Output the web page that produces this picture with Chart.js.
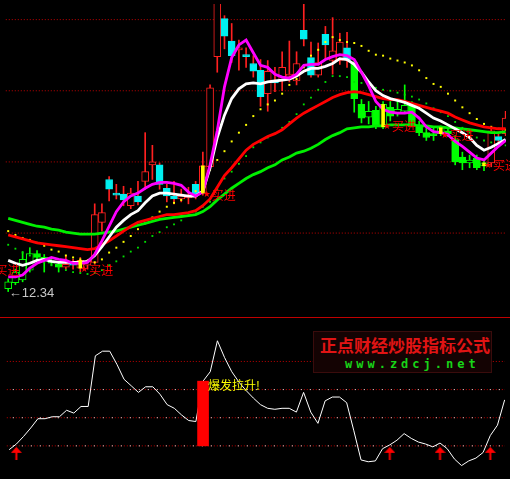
<!DOCTYPE html>
<html>
<head>
<meta charset="utf-8">
<script src="https://cdn.jsdelivr.net/npm/chart.js"></script>
<style>
  html, body { margin: 0; padding: 0; background: #000; overflow: hidden; }
  #wrap { position: relative; width: 510px; height: 479px; background: #000; }
  #k { position: absolute; left: 0; top: 0; }
  #oscBox { position: absolute; left: 0; top: 317px; width: 510px; height: 162px;
            border-top: 1px solid #c00000; box-sizing: border-box; }
  #osc { position: absolute; left: 0; top: 0; }
  #badge { position: absolute; left: 313px; top: 331px; width: 179px; height: 42px;
           background: #140303; border: 1px solid #3a0c0c; box-sizing: border-box; }
  #badge .cn { position: absolute; left: 6px; top: 3px; font: bold 17px "Noto Sans CJK SC", sans-serif;
               line-height: 20px; color: #e01414; white-space: nowrap; }
  #badge .url { position: absolute; left: 31px; top: 26px; font: bold 12px "DejaVu Sans Mono", monospace;
                line-height: 13px; letter-spacing: 4px; color: #18d418; white-space: nowrap; }
</style>
</head>
<body>
<div id="wrap">
  <canvas id="k" width="510" height="317"></canvas>
  <div id="oscBox"><canvas id="osc" width="510" height="161"></canvas></div>
  <div id="badge"><div class="cn">正点财经炒股指标公式</div><div class="url">www.zdcj.net</div></div>
</div>
<script>
// ---- daily bars ----
const open  = [12.37,12.43,12.46,12.56,12.73,12.69,12.65,12.62,12.59,12.63,12.58,12.61,
               12.64,13.05,13.49,13.35,13.34,13.22,13.32,13.47,13.64,13.64,13.40,13.32,
               13.29,13.30,13.44,13.35,13.62,14.75,15.14,14.91,14.82,14.77,14.68,14.61,
               14.37,14.51,14.51,14.55,14.50,15.02,14.74,14.56,14.98,14.71,14.71,14.84,
               14.69,14.26,14.13,14.20,14.03,14.23,14.17,14.19,14.25,14.05,13.97,13.96,
               13.96,13.99,13.90,13.72,13.66,13.71,13.63,13.66,13.93,13.96];
const high  = [12.47,12.57,12.75,12.79,12.76,12.72,12.67,12.64,12.71,12.67,12.69,12.67,
               13.24,13.24,13.52,13.44,13.42,13.40,13.47,13.97,13.84,13.66,13.44,13.47,
               13.39,13.41,13.47,13.77,14.46,15.54,15.17,15.09,14.92,14.84,14.76,14.72,
               14.71,14.64,14.80,14.91,14.80,15.34,14.90,14.89,15.06,15.15,14.99,15.00,
               14.72,14.31,14.29,14.24,14.29,14.29,14.31,14.46,14.29,14.09,14.02,14.02,
               14.04,14.02,13.94,13.77,13.74,13.74,13.69,14.01,13.96,14.19];
const low   = [12.34,12.41,12.44,12.54,12.67,12.54,12.61,12.54,12.57,12.57,12.54,12.57,
               12.62,12.96,13.27,13.29,13.22,13.19,13.23,13.39,13.49,13.39,13.26,13.24,
               13.26,13.24,13.29,13.33,13.60,14.59,14.83,14.69,14.61,14.64,14.54,14.24,
               14.19,14.39,14.40,14.49,14.46,14.86,14.54,14.54,14.72,14.57,14.67,14.64,
               14.18,14.07,14.06,14.01,14.01,14.09,14.14,14.17,14.03,13.94,13.89,13.89,
               13.94,13.93,13.64,13.59,13.61,13.59,13.58,13.62,13.87,13.94];
const close = [12.44,12.54,12.67,12.73,12.69,12.66,12.63,12.59,12.62,12.61,12.66,12.65,
               13.13,13.15,13.39,13.33,13.28,13.35,13.26,13.57,13.67,13.44,13.32,13.29,
               13.32,13.33,13.34,13.63,14.43,15.37,14.96,14.76,14.84,14.75,14.60,14.34,
               14.60,14.48,14.64,14.57,14.68,14.93,14.56,14.69,14.87,14.81,14.90,14.72,
               14.32,14.12,14.19,14.03,14.26,14.14,14.21,14.25,14.06,13.97,13.92,13.94,
               14.02,13.96,13.67,13.66,13.69,13.61,13.66,13.99,13.89,14.12];

// ---- overlay lines ----
const fastLine  = [12.49,12.49,12.51,12.58,12.63,12.66,12.69,12.67,12.66,12.63,12.63,12.64,
                   12.72,12.86,13.01,13.16,13.26,13.32,13.35,13.40,13.44,13.46,13.46,13.45,
                   13.43,13.36,13.32,13.36,13.64,13.99,14.44,14.74,14.87,14.92,14.79,14.66,
                   14.64,14.57,14.54,14.53,14.57,14.66,14.67,14.67,14.72,14.75,14.77,14.76,
                   14.72,14.59,14.45,14.29,14.21,14.18,14.17,14.17,14.18,14.12,14.03,13.98,
                   13.97,13.95,13.88,13.83,13.77,13.71,13.69,13.76,13.83,13.89];
const shortLine = [12.66,12.63,12.61,12.63,12.66,12.67,12.65,12.64,12.64,12.64,12.64,12.65,
                   12.71,12.80,12.90,13.00,13.07,13.13,13.17,13.25,13.32,13.35,13.35,13.34,
                   13.33,13.32,13.32,13.37,13.61,13.92,14.15,14.32,14.42,14.47,14.48,14.47,
                   14.49,14.50,14.51,14.52,14.55,14.60,14.63,14.63,14.65,14.68,14.73,14.72,
                   14.67,14.59,14.49,14.40,14.35,14.32,14.30,14.28,14.25,14.22,14.17,14.12,
                   14.09,14.05,14.01,13.97,13.92,13.84,13.79,13.82,13.86,13.90];
const midLine   = [12.92,12.90,12.88,12.86,12.84,12.83,12.82,12.81,12.80,12.79,12.78,12.77,
                   12.78,12.82,12.86,12.91,12.96,13.01,13.05,13.07,13.09,13.11,13.13,13.13,
                   13.14,13.15,13.17,13.22,13.29,13.41,13.53,13.61,13.70,13.79,13.85,13.89,
                   13.93,13.96,14.00,14.06,14.12,14.17,14.21,14.25,14.29,14.33,14.36,14.38,
                   14.39,14.38,14.36,14.34,14.32,14.31,14.31,14.29,14.27,14.25,14.23,14.21,
                   14.19,14.17,14.13,14.10,14.07,14.05,14.03,14.02,14.01,14.01];
const longLine  = [13.09,13.07,13.05,13.03,13.01,13.00,12.98,12.97,12.95,12.94,12.93,12.93,
                   12.93,12.94,12.95,12.96,12.98,13.00,13.02,13.04,13.06,13.08,13.09,13.10,
                   13.11,13.12,13.13,13.16,13.21,13.28,13.34,13.40,13.45,13.50,13.54,13.57,
                   13.61,13.64,13.69,13.72,13.76,13.78,13.81,13.85,13.90,13.94,13.97,14.01,
                   14.02,14.03,14.03,14.04,14.04,14.05,14.05,14.05,14.05,14.04,14.04,14.03,
                   14.03,14.02,14.02,14.01,14.00,13.99,13.98,13.97,13.97,13.98];
const upperDots = [12.96,12.92,12.89,12.87,12.84,12.81,12.77,12.75,12.71,12.69,12.67,12.65,
                   12.64,12.67,12.74,12.79,12.85,12.91,12.98,13.04,13.10,13.16,13.21,13.25,
                   13.28,13.32,13.37,13.46,13.59,13.69,13.78,13.88,13.97,14.05,14.14,14.21,
                   14.26,14.30,14.37,14.46,14.52,14.64,14.76,14.82,14.90,14.95,14.92,14.90,
                   14.89,14.86,14.81,14.77,14.76,14.73,14.71,14.69,14.66,14.61,14.53,14.47,
                   14.44,14.37,14.30,14.23,14.17,14.11,14.06,14.03,14.01,14.00];
const lowerDots = [12.82,12.78,12.74,12.71,12.67,12.64,12.61,12.59,12.56,12.54,12.53,12.52,
                   12.53,12.56,12.61,12.65,12.70,12.75,12.79,12.85,12.91,12.95,13.00,13.03,
                   13.07,13.12,13.16,13.21,13.26,13.39,13.50,13.57,13.65,13.73,13.82,13.87,
                   13.92,13.96,14.02,14.08,14.16,14.26,14.33,14.41,14.49,14.55,14.55,14.54,
                   14.49,14.48,14.46,14.43,14.41,14.40,14.38,14.36,14.34,14.31,14.27,14.22,
                   14.18,14.14,14.08,14.02,13.97,13.92,13.89,13.87,13.85,13.84];

// ---- oscillator ----
const osc = [17.3,21.3,26.7,32.7,39.3,39.3,40.7,40.7,45.3,43.3,48,48,
             84,87.3,87.3,78,67.3,62.7,58,62,62,56.7,49.3,46.7,
             42,38,37.3,66,72.7,94.7,82.7,72.7,65.3,59.3,54,49.3,
             46.7,46,46.7,46.7,44,58,44,36,52,54.7,54.7,50.7,
             30.7,10,8.7,9.3,18,20.7,24,28.7,25.3,22.7,21.3,19.3,
             22,18,10.7,6,9.3,11.3,15.3,27.3,34.7,52.7];

// ---- signals and levels ----
const weakSpans   = [[0, 7], [48, 66]];
const buyBars     = [-3, 10, 27, 52, 60, 66];
const buyAt       = [12.56, 12.56, 13.33, 14.03, 13.94, 13.63];
const signalBars  = [10, 27, 52, 60, 66];
const burstBars   = [27];
const priceGrid   = [12.94, 13.67, 14.40, 15.13];
const oscGrid     = [20, 40, 60, 80];
const oscTrigger  = 20;

const BUY_STAR = '★';
const BUY_TEXT = '买进';
const BURST_TEXT = '爆发拉升!';

const C_UP = '#ff2020', C_DOWN = '#00f0f0', C_WEAK = '#00ff00';
const X_MIN = -0.582, X_MAX = 69.05;

const idx = close.map((_, i) => i);
const pts = arr => arr.map((v, i) => ({ x: i, y: v }));
const isWeak = i => weakSpans.some(([a, b]) => i >= a && i <= b);
const isUp = i => close[i] >= open[i];
const bodyColor = i => isWeak(i) ? C_WEAK : (isUp(i) ? C_UP : C_DOWN);
const wickColor = i => isWeak(i) ? C_WEAK : C_UP;

function hLine(v, color, dash, order, dashOffset = 0) {
  return { type: 'line', data: [{ x: X_MIN - 1, y: v }, { x: X_MAX + 1, y: v }],
           borderColor: color, borderWidth: 1, borderDash: dash, borderDashOffset: dashOffset,
           pointRadius: 0, order };
}

const xScale = { type: 'linear', min: X_MIN, max: X_MAX, offset: false, display: false, bounds: 'ticks' };

// ---- price panel ----
const priceMarks = {
  id: 'priceMarks',
  afterDatasetsDraw(chart) {
    const { ctx, scales: { x, y } } = chart;
    ctx.save();
    ctx.fillStyle = '#ff0000';
    ctx.textBaseline = 'middle';
    ctx.textAlign = 'left';
    buyBars.forEach((b, k) => {
      const px = x.getPixelForValue(b), py = y.getPixelForValue(buyAt[k]);
      ctx.font = '9px "DejaVu Sans", sans-serif';
      ctx.fillText(BUY_STAR, px, py);
      ctx.font = '12px "Noto Sans CJK SC", sans-serif';
      ctx.fillText(BUY_TEXT, px + 9, py);
    });
    const lowest = Math.min(...low);
    const at = low.indexOf(lowest);
    ctx.font = '13px "Liberation Sans", sans-serif';
    ctx.fillStyle = '#c8c8c8';
    ctx.fillText('←' + lowest.toFixed(2), x.getPixelForValue(at) + 0.5, y.getPixelForValue(lowest) + 1.5);
    ctx.restore();
  }
};

new Chart(document.getElementById('k'), {
  type: 'bar',
  data: {
    datasets: [
      ...priceGrid.map(v => hLine(v, '#c00000', [1, 2], 30)),
      { type: 'bar', data: idx.map(i => ({ x: i, y: [low[i], high[i]] })), grouped: false,
        barThickness: 1, backgroundColor: c => wickColor(c.dataIndex), borderWidth: 0, order: 20 },
      { type: 'bar', data: idx.map(i => ({ x: i, y: [open[i], close[i]] })), grouped: false,
        barThickness: 7, minBarLength: 1, borderSkipped: false, borderWidth: 1,
        borderColor: c => bodyColor(c.dataIndex),
        backgroundColor: c => isUp(c.dataIndex) ? '#000' : bodyColor(c.dataIndex), order: 19 },
      { type: 'line', showLine: false, data: pts(upperDots), pointStyle: 'rect', pointRadius: 1.4,
        pointBackgroundColor: '#ffff00', pointBorderWidth: 0, order: 12 },
      { type: 'line', showLine: false, data: pts(lowerDots), pointStyle: 'rect', pointRadius: 1.3,
        pointBackgroundColor: '#00e000', pointBorderWidth: 0, order: 12 },
      { type: 'line', data: pts(longLine), borderColor: '#00f000', borderWidth: 2.8, pointRadius: 0, order: 6 },
      { type: 'line', data: pts(midLine), borderColor: '#ff0000', borderWidth: 2.8, pointRadius: 0, order: 5 },
      { type: 'line', data: pts(shortLine), borderColor: '#ffffff', borderWidth: 2.8, pointRadius: 0, order: 4 },
      { type: 'line', data: pts(fastLine), borderColor: '#ff00ff', borderWidth: 2.8, pointRadius: 0, order: 3 },
      { type: 'bar', data: signalBars.map(b => ({ x: b, y: [open[b], close[b]] })), grouped: false,
        barThickness: 3, minBarLength: 2, backgroundColor: '#ffff00', borderWidth: 0, order: 1 }
    ]
  },
  options: {
    responsive: false, animation: false, devicePixelRatio: 1,
    layout: { padding: 0 },
    plugins: { legend: { display: false }, tooltip: { enabled: false } },
    scales: {
      x: xScale,
      y: { type: 'linear', min: 12.12, max: 15.29, display: false }
    }
  },
  plugins: [priceMarks]
});

// ---- oscillator panel ----
const arrowImg = document.createElement('canvas');
arrowImg.width = 11; arrowImg.height = 13;
(() => {
  const a = arrowImg.getContext('2d');
  a.fillStyle = '#ff0000';
  a.beginPath(); a.moveTo(5.5, 0); a.lineTo(11, 6); a.lineTo(0, 6); a.closePath(); a.fill();
  a.fillRect(4.5, 6, 2, 7);
})();
const crossUps = idx.filter(i => i > 0 && osc[i - 1] < oscTrigger && osc[i] >= oscTrigger);
const ARROW_LEVEL = 14.7;

const oscMarks = {
  id: 'oscMarks',
  afterDatasetsDraw(chart) {
    const { ctx, scales: { x, y } } = chart;
    ctx.save();
    ctx.font = '12px "Noto Sans CJK SC", sans-serif';
    ctx.fillStyle = '#ffff00';
    ctx.textBaseline = 'middle';
    burstBars.forEach(b => ctx.fillText(BURST_TEXT, x.getPixelForValue(b) + 5, y.getPixelForValue(osc[b]) + 4));
    ctx.restore();
  }
};

new Chart(document.getElementById('osc'), {
  type: 'bar',
  data: {
    datasets: [
      ...oscGrid.map(v => hLine(v, '#c00000', [1, 2], 30)),
      ...oscGrid.filter(v => v < 80).map(v => hLine(v, '#e0e0e0', [1, 8], 29, 3)),
      { type: 'line', data: pts(osc), borderColor: '#ffffff', borderWidth: 1, pointRadius: 0, order: 5 },
      { type: 'bar', data: burstBars.map(b => ({ x: b, y: [oscTrigger, osc[b]] })), grouped: false,
        barThickness: 11, backgroundColor: '#ff0000', borderWidth: 0, order: 2 },
      { type: 'line', showLine: false, data: crossUps.map(i => ({ x: i, y: ARROW_LEVEL })),
        pointStyle: arrowImg, order: 1 }
    ]
  },
  options: {
    responsive: false, animation: false, devicePixelRatio: 1,
    layout: { padding: 0 },
    plugins: { legend: { display: false }, tooltip: { enabled: false } },
    scales: {
      x: xScale,
      y: { type: 'linear', min: 0, max: 161 / 1.5, display: false }
    }
  },
  plugins: [oscMarks]
});
</script>
</body>
</html>
